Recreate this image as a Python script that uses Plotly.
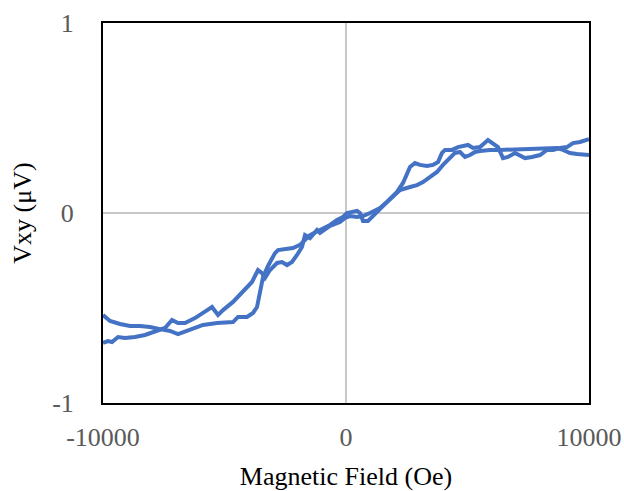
import plotly.graph_objects as go

# Branch A (starts low at -10000 Oe)
field_a = [-10000, -9794, -9629, -9382, -9094, -8683, -8271, -7860, -7448, -7160,
           -6913, -6625, -6214, -5884, -5514, -5267, -5061, -4650, -4238, -3868,
           -3621, -3457, -3333, -3127, -2839, -2634, -2428, -2222, -2016, -1811,
           -1687, -1481, -1193, -1070, -658, -247, -41, 165, 453, 700,
           988, 1399, 1687, 1934, 2222, 2634, 2922, 3169, 3457, 3745,
           3992, 4280, 4485, 4691, 4897, 5103, 5308, 5514, 5926, 6337,
           7160, 7983, 8683, 8930, 9218, 9506, 10000]
vxy_a = [-0.684, -0.674, -0.679, -0.653, -0.658, -0.653, -0.642, -0.621, -0.605, -0.563,
         -0.579, -0.579, -0.553, -0.526, -0.495, -0.537, -0.511, -0.468, -0.416, -0.363,
         -0.300, -0.316, -0.342, -0.300, -0.263, -0.258, -0.274, -0.258, -0.221, -0.179,
         -0.116, -0.132, -0.089, -0.105, -0.068, -0.047, -0.026, -0.016, -0.021, -0.016,
         0.000, 0.026, 0.058, 0.089, 0.121, 0.137, 0.147, 0.163, 0.189, 0.216,
         0.253, 0.289, 0.316, 0.321, 0.295, 0.305, 0.321, 0.326, 0.332, 0.332,
         0.337, 0.342, 0.342, 0.332, 0.316, 0.311, 0.305]

# Branch B (starts higher at -10000 Oe)
field_b = [-10000, -9711, -9300, -8888, -8477, -8065, -7654, -7242, -6913, -6625,
           -6214, -5884, -5308, -4650, -4444, -4074, -3827, -3662, -3539, -3415,
           -3210, -2922, -2798, -2428, -2181, -1893, -1481, -1070, -658, -370,
           -123, 41, 247, 453, 576, 700, 905, 1193, 1399, 1687,
           1893, 2099, 2346, 2510, 2634, 2839, 3045, 3333, 3580, 3786,
           3950, 4074, 4362, 4609, 5020, 5226, 5514, 5843, 6049, 6255,
           6461, 6666, 6954, 7160, 7366, 7654, 7983, 8271, 8518, 8806,
           9094, 9341, 9629, 10000]
vxy_b = [-0.537, -0.568, -0.584, -0.595, -0.595, -0.600, -0.611, -0.621, -0.637, -0.626,
         -0.605, -0.589, -0.579, -0.574, -0.547, -0.547, -0.526, -0.495, -0.405, -0.337,
         -0.279, -0.211, -0.195, -0.189, -0.184, -0.168, -0.116, -0.089, -0.063, -0.037,
         -0.021, 0.000, 0.005, 0.011, 0.000, -0.042, -0.042, -0.005, 0.016, 0.053,
         0.079, 0.111, 0.158, 0.211, 0.242, 0.263, 0.253, 0.247, 0.253, 0.268,
         0.316, 0.332, 0.332, 0.347, 0.358, 0.342, 0.347, 0.384, 0.368, 0.347,
         0.289, 0.295, 0.316, 0.305, 0.289, 0.295, 0.305, 0.332, 0.332, 0.342,
         0.347, 0.368, 0.374, 0.389]

x_ticks = [-10000, 0, 10000]
x_ticklabels = ["-10000", "0", "10000"]
y_ticks = [-1, 0, 1]
y_ticklabels = ["-1", "0", "1"]

line_color = "#4472C4"
font_family = "Liberation Serif"

fig = go.Figure()
for fx, vy in [(field_a, vxy_a), (field_b, vxy_b)]:
    fig.add_trace(go.Scatter(x=fx, y=vy, mode="lines",
                             line=dict(color=line_color, width=4, shape="linear"),
                             showlegend=False, hoverinfo="x+y"))

fig.update_layout(
    width=624, height=491,
    margin=dict(l=103, r=35, t=23, b=88),
    paper_bgcolor="white", plot_bgcolor="white",
    font=dict(family=font_family, size=26, color="black"),
)
fig.update_xaxes(
    range=[-10000, 10000], tickvals=x_ticks, ticktext=x_ticklabels,
    showgrid=False, zeroline=True, zerolinecolor="#C8C8C8", zerolinewidth=2,
    showline=True, linecolor="black", linewidth=2, mirror=True, ticks="",
    automargin=False,
    tickfont=dict(family=font_family, size=26, color="#595959"),
    ticklabelstandoff=10,
    title=dict(text="Magnetic Field (Oe)", font=dict(family=font_family, size=26, color="black"), standoff=22),
)
fig.update_yaxes(
    range=[-1, 1], tickvals=y_ticks, ticktext=y_ticklabels,
    showgrid=False, zeroline=True, zerolinecolor="#C8C8C8", zerolinewidth=2,
    showline=True, linecolor="black", linewidth=2, mirror=True, ticks="",
    automargin=False,
    tickfont=dict(family=font_family, size=26, color="#595959"),
    ticklabelstandoff=22,
    title=dict(text="Vxy (μV)", font=dict(family=font_family, size=26, color="black"), standoff=13),
)

# remove the browser's default page margin so the figure fills the window
fig.write_html("out.html",
               config={"displayModeBar": False},
               post_script="document.body.style.margin='0';document.body.style.overflow='hidden';")
